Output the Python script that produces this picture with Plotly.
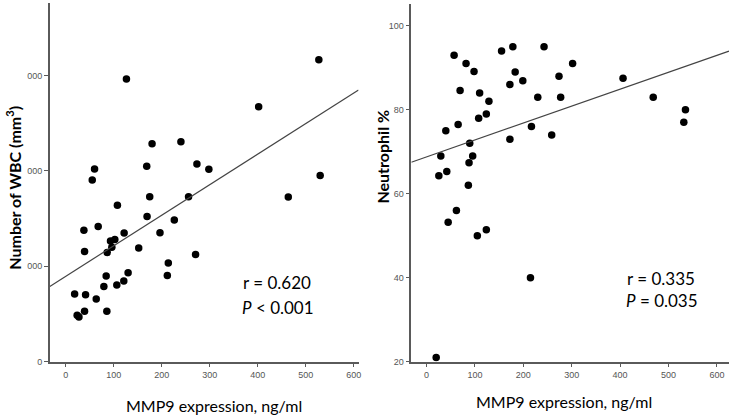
import numpy as np
import plotly.graph_objects as go

W, H = 734, 420

# Left panel: MMP9 vs WBC
wbc_mmp9 = [18.7, 24, 27.7, 39.4, 41.5, 38, 39.4, 63.7, 55.4, 60.2, 67.8, 79.6, 84.4, 85.8,
            86.5, 93.4, 96.2, 102.4, 106.6, 107.8, 121.1, 121.8, 130.1, 126.6, 152.2, 168.9,
            169.6, 175.1, 180, 196.5, 211.8, 213.8, 226.3, 240.1, 256, 270.6, 273.4, 298.3,
            402, 463.7, 527.3, 530.1]
wbc_count = [3544, 2431, 2345, 2636, 3510, 6882, 5769, 3287, 9519, 10101, 7088, 3938, 4485, 2636,
             5718, 6317, 5992, 6403, 4023, 8200, 4229, 6745, 4657, 14809, 5958, 10238,
             7601, 8646, 11419, 6762, 4520, 5170, 7430, 11522, 8646, 5615, 10358, 10084,
             13354, 8628, 15819, 9758]
wbc_fit_intercept = 4470
wbc_fit_slope = 16.01

# Right panel: MMP9 vs Neutrophil %
neu_mmp9 = [19.9, 25.4, 29.5, 39.8, 41.8, 44.6, 56.9, 61.7, 65.2, 69.3, 81.6, 86.4, 87.8, 89.2,
            95.3, 98.1, 104.9, 107.7, 109.7, 123.5, 123.5, 128.9, 155, 172.2, 172.2, 178.3,
            183.1, 198.9, 214.7, 216.7, 229.8, 242.8, 258.6, 273.7, 277.1, 301.8, 406, 468.4,
            531.6, 535]
neu_pct = [21.0, 64.3, 69.0, 75.0, 65.3, 53.2, 93.0, 56.0, 76.5, 84.6, 91.0, 62.0, 67.4, 72.0,
           69.0, 89.1, 50.0, 78.0, 84.0, 79.0, 51.4, 82.0, 94.0, 73.0, 86.0, 95.0,
           89.0, 86.9, 40.0, 76.0, 83.0, 95.0, 74.0, 88.0, 83.0, 91.0, 87.5, 83.0,
           77.0, 80.0]
neu_fit_intercept = 68.77
neu_fit_slope = 0.04033

x_ticks = [0, 100, 200, 300, 400, 500, 600]
wbc_ticks = [0, 5000, 10000, 15000]
wbc_ticktext = ["0", "000", "000", "000"]
neu_ticks = [20, 40, 60, 80, 100]

left_stats = ["r = 0.620", "<i>P</i> &lt; 0.001"]
right_stats = ["r = 0.335", "<i>P</i> = 0.035"]

xr_left = [-33, 610]
xr_right = [-31.5, 625]

fig = go.Figure()

def add_panel(xs, ys, a, b, xref, yref, xr):
    fig.add_trace(go.Scatter(x=xs, y=ys, mode="markers", xaxis=xref, yaxis=yref,
                             marker=dict(color="black", size=7.5), showlegend=False))
    lx = np.array(xr, dtype=float)
    fig.add_trace(go.Scatter(x=lx, y=a + b * lx, mode="lines", xaxis=xref, yaxis=yref,
                             line=dict(color="#444444", width=1.2), showlegend=False))

add_panel(wbc_mmp9, wbc_count, wbc_fit_intercept, wbc_fit_slope, "x", "y", xr_left)
add_panel(neu_mmp9, neu_pct, neu_fit_intercept, neu_fit_slope, "x2", "y2", xr_right)

tickfont = dict(family="Liberation Sans Narrow, Arial Narrow, Liberation Sans, sans-serif",
                size=9, color="#555555")
axis_common = dict(showgrid=False, zeroline=False, showline=True, linecolor="#5a5a5a",
                   linewidth=1.5, ticks="outside", ticklen=4, tickcolor="#5a5a5a",
                   tickwidth=1, tickfont=tickfont, mirror=False)

fig.update_layout(
    width=W, height=H,
    margin=dict(l=0, r=0, t=0, b=0),
    paper_bgcolor="white", plot_bgcolor="white",
    xaxis=dict(domain=[50 / W, 360 / W], range=xr_left, tickvals=x_ticks, anchor="y", **axis_common),
    yaxis=dict(domain=[1 - 366 / H, 1 - 3 / H], range=[0, 18800], tickvals=wbc_ticks,
               ticktext=wbc_ticktext, anchor="x", **axis_common),
    xaxis2=dict(domain=[413 / W, 732 / W], range=xr_right, tickvals=x_ticks, anchor="y2", **axis_common),
    yaxis2=dict(domain=[1 - 366 / H, 1 - 4 / H], range=[20, 105.2], tickvals=neu_ticks,
                anchor="x2", **axis_common),
)

def ann(text, px, py, size=16, bold=False, angle=0):
    fig.add_annotation(text=("<b>%s</b>" % text) if bold else text,
                       x=px / W, y=1 - py / H, xref="paper", yref="paper",
                       showarrow=False, textangle=angle, xanchor="center", yanchor="middle",
                       font=dict(family="Lato, Open Sans, sans-serif", size=size, color="black"))

ann("MMP9 expression, ng/ml", 215, 410, size=16)
ann("MMP9 expression, ng/ml", 566, 406, size=16)
ann("Number of WBC (mm<sup>3</sup>)", 14, 190, size=16, bold=True, angle=-90)
ann("Neutrophil %", 384, 158, size=16, bold=True, angle=-90)

ann(left_stats[0], 278, 286, size=17)
ann(left_stats[1], 279, 311, size=17)
ann(right_stats[0], 664, 282, size=17)
ann(right_stats[1], 665, 304, size=17)

fig.write_html("out.html", config={"displayModeBar": False},
               post_script="document.body.style.margin='0px';")
